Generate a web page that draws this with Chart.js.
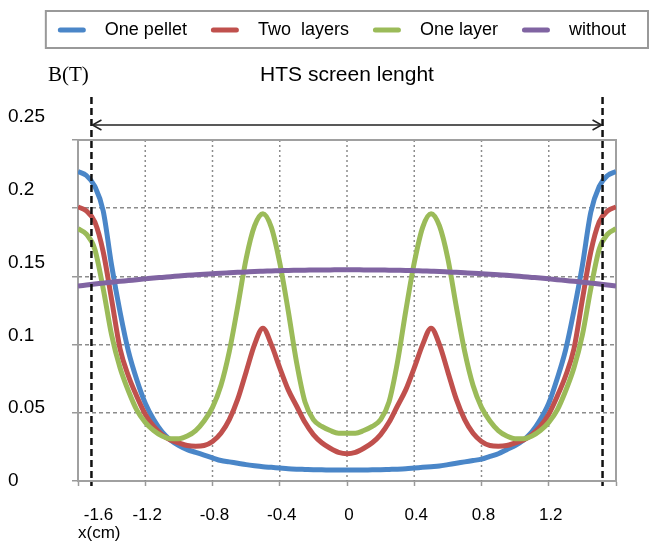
<!DOCTYPE html>
<html>
<head>
<meta charset="utf-8">
<script src="https://cdn.jsdelivr.net/npm/chart.js@4"></script>
<style>
  html, body { margin: 0; padding: 0; background: #fff; }
</style>
</head>
<body>
<canvas id="mycanvas" width="650" height="544"></canvas>
<script>
// positions along the screen, cm
var xPos = [-1.6, -1.55, -1.5, -1.45, -1.4, -1.35, -1.3, -1.25, -1.2, -1.15, -1.1, -1.05, -1.0, -0.95, -0.9, -0.85,
	-0.8, -0.75, -0.7, -0.65, -0.6, -0.55, -0.5, -0.45, -0.4, -0.35, -0.3, -0.25, -0.2, -0.15, -0.1, -0.05,
	0, 0.05, 0.1, 0.15, 0.2, 0.25, 0.3, 0.35, 0.4, 0.45, 0.5, 0.55, 0.6, 0.65, 0.7, 0.75,
	0.8, 0.85, 0.9, 0.95, 1.0, 1.05, 1.1, 1.15, 1.2, 1.25, 1.3, 1.35, 1.4, 1.45, 1.5, 1.55, 1.6];

// B (T)
var onePellet = [0.227, 0.224, 0.216, 0.198, 0.158, 0.124, 0.095, 0.074, 0.057, 0.045, 0.036, 0.030, 0.026, 0.023, 0.021, 0.019,
	0.017, 0.015, 0.014, 0.013, 0.012, 0.0112, 0.0105, 0.010, 0.0095, 0.009, 0.0087, 0.0085, 0.0083, 0.0082, 0.0081, 0.008,
	0.008, 0.008, 0.0081, 0.0082, 0.0083, 0.0085, 0.0087, 0.009, 0.0095, 0.010, 0.0105, 0.011, 0.012, 0.013, 0.014, 0.015,
	0.016, 0.018, 0.020, 0.023, 0.026, 0.030, 0.036, 0.045, 0.057, 0.075, 0.096, 0.125, 0.158, 0.197, 0.216, 0.224, 0.227];

var twoLayers = [0.201, 0.198, 0.190, 0.168, 0.133, 0.097, 0.077, 0.062, 0.049, 0.040, 0.034, 0.030, 0.028, 0.026, 0.0255, 0.026,
	0.029, 0.035, 0.045, 0.060, 0.080, 0.100, 0.112, 0.100, 0.083, 0.067, 0.055, 0.043, 0.034, 0.028, 0.024, 0.021,
	0.020, 0.021, 0.024, 0.028, 0.034, 0.043, 0.055, 0.067, 0.083, 0.100, 0.112, 0.100, 0.080, 0.060, 0.045, 0.035,
	0.029, 0.026, 0.0255, 0.026, 0.028, 0.030, 0.034, 0.040, 0.049, 0.062, 0.077, 0.097, 0.133, 0.168, 0.190, 0.198, 0.201];

var oneLayer = [0.185, 0.181, 0.170, 0.141, 0.107, 0.083, 0.066, 0.052, 0.043, 0.037, 0.033, 0.031, 0.031, 0.033, 0.037, 0.044,
	0.054, 0.070, 0.095, 0.128, 0.163, 0.187, 0.196, 0.186, 0.160, 0.125, 0.087, 0.058, 0.045, 0.040, 0.037, 0.035,
	0.035, 0.035, 0.037, 0.040, 0.045, 0.058, 0.087, 0.125, 0.160, 0.186, 0.196, 0.187, 0.163, 0.128, 0.095, 0.070,
	0.054, 0.044, 0.037, 0.033, 0.031, 0.031, 0.033, 0.037, 0.043, 0.052, 0.066, 0.083, 0.107, 0.141, 0.170, 0.181, 0.185];

var without = [0.1430, 0.1437, 0.1444, 0.1451, 0.1458, 0.1464, 0.1470, 0.1476, 0.1482, 0.1488, 0.1493, 0.1498, 0.1503, 0.1508, 0.1512, 0.1516,
	0.1520, 0.1524, 0.1527, 0.1530, 0.1533, 0.1536, 0.1538, 0.1540, 0.1542, 0.1544, 0.1545, 0.1546, 0.1547, 0.1548, 0.1548, 0.1549,
	0.1549, 0.1549, 0.1548, 0.1548, 0.1547, 0.1546, 0.1545, 0.1544, 0.1542, 0.1540, 0.1538, 0.1536, 0.1533, 0.1530, 0.1527, 0.1524,
	0.1520, 0.1516, 0.1512, 0.1508, 0.1503, 0.1498, 0.1493, 0.1488, 0.1482, 0.1476, 0.1470, 0.1464, 0.1458, 0.1451, 0.1444, 0.1437, 0.1430];

var seriesNames = ['One pellet', 'Two  layers', 'One layer', 'without'];
var yTickLabels = ['0', '0.05', '0.1', '0.15', '0.2', '0.25'];
var xTickLabels = ['-1.6', '-1.2', '-0.8', '-0.4', '0', '0.4', '0.8', '1.2'];

var SCREEN_EDGE = 1.52;   // dashed marker lines (ends of the HTS screen)
var Y_TOP = 0.2669;       // plot box ends at 0.25, labels sit slightly higher

Chart.defaults.font.family = '"Liberation Sans", Arial, sans-serif';
Chart.defaults.color = '#000';

function pts(vals) {
	return vals.map(function(v, i) { return {x: xPos[i], y: v}; });
}

function line(ctx, x1, y1, x2, y2) {
	ctx.beginPath();
	ctx.moveTo(x1, y1);
	ctx.lineTo(x2, y2);
	ctx.stroke();
}

var decor = {
	id: 'decor',
	beforeDatasetsDraw: function(chart) {
		var ctx = chart.ctx, ca = chart.chartArea, x = chart.scales.x, y = chart.scales.y;
		var top = y.getPixelForValue(0.25), bottom = y.getPixelForValue(0);
		ctx.save();
		// vertical dotted grid, only inside the box
		ctx.strokeStyle = '#8c8c8c';
		ctx.lineWidth = 1.5;
		ctx.setLineDash([2, 3]);
		x.ticks.forEach(function(t) {
			if (t.value <= x.min + 1e-6 || t.value >= x.max - 1e-6) return;
			var px = x.getPixelForValue(t.value);
			line(ctx, px, top, px, bottom);
		});
		// plot box
		ctx.setLineDash([]);
		ctx.strokeStyle = '#a0a0a0';
		ctx.lineWidth = 2;
		ctx.beginPath();
		ctx.moveTo(ca.left, bottom);
		ctx.lineTo(ca.left, top);
		ctx.lineTo(ca.right, top);
		ctx.lineTo(ca.right, bottom);
		ctx.stroke();
		ctx.restore();
	},
	afterDatasetsDraw: function(chart) {
		var ctx = chart.ctx, ca = chart.chartArea, x = chart.scales.x, y = chart.scales.y;
		var bottom = y.getPixelForValue(0);
		var xl = x.getPixelForValue(-SCREEN_EDGE), xr = x.getPixelForValue(SCREEN_EDGE);
		ctx.save();
		// screen edges
		ctx.strokeStyle = '#111';
		ctx.lineWidth = 2.5;
		ctx.setLineDash([7, 4]);
		line(ctx, xl, ca.top - 20, xl, bottom + 5);
		line(ctx, xr, ca.top - 20, xr, bottom + 5);
		// double arrow
		ctx.setLineDash([]);
		ctx.lineWidth = 1.5;
		ctx.strokeStyle = '#222';
		var ay = ca.top + 8;
		line(ctx, xl + 1, ay, xr - 1, ay);
		ctx.beginPath();
		ctx.moveTo(xl + 10, ay - 5); ctx.lineTo(xl + 1, ay); ctx.lineTo(xl + 10, ay + 5);
		ctx.moveTo(xr - 10, ay - 5); ctx.lineTo(xr - 1, ay); ctx.lineTo(xr - 10, ay + 5);
		ctx.stroke();
		// axis unit
		ctx.fillStyle = '#000';
		ctx.textBaseline = 'middle';
		ctx.textAlign = 'left';
		ctx.font = '21px "Liberation Serif", "Times New Roman", serif';
		ctx.fillText('B(T)', ca.left - 30, ca.top - 42);
		ctx.restore();
	},
	afterDraw: function(chart) {
		var hb = chart.legend && chart.legend.legendHitBoxes;
		if (!hb || !hb.length) return;
		var ctx = chart.ctx;
		ctx.save();
		ctx.strokeStyle = '#999';
		ctx.lineWidth = 2;
		var left = hb[0].left - 12, top = hb[0].top - 10;
		ctx.strokeRect(left, top, chart.width - 2 - left, hb[0].height + 19);
		ctx.restore();
	}
};

var chardata = {
	datasets: [
		{ label: seriesNames[0], data: pts(onePellet), borderColor: '#4a86c8', order: 3 },
		{ label: seriesNames[1], data: pts(twoLayers), borderColor: '#c0504d', order: 2 },
		{ label: seriesNames[2], data: pts(oneLayer), borderColor: '#9bbb59', order: 1 },
		{ label: seriesNames[3], data: pts(without), borderColor: '#8064a2', order: 0 }
	]
};

var ctx = document.getElementById('mycanvas');

var LineGraph = new Chart(ctx, {
	type: 'line',
	data: chardata,
	options: {
		responsive: false,
		animation: false,
		events: [],
		layout: { padding: { top: -3, left: 8, right: 0, bottom: 0 } },
		elements: {
			line: { borderWidth: 5, cubicInterpolationMode: 'monotone', fill: false },
			point: { radius: 0 }
		},
		scales: {
			x: {
				type: 'linear', position: 'bottom', weight: 0, min: -1.6, max: 1.6,
				ticks: { display: false, stepSize: 0.4 },
				grid: { drawOnChartArea: false, drawTicks: true, tickLength: 5, tickColor: '#999', tickWidth: 1.5 },
				border: { display: true, color: '#a0a0a0', width: 2 }
			},
			xl: {
				type: 'linear', position: 'bottom', weight: 1, min: -1.6, max: 1.6,
				grid: { display: false, drawTicks: false },
				border: { display: false },
				afterBuildTicks: function(s) {
					// first label sits beside the screen edge marker, as in the original
					s.ticks = xTickLabels.map(function(t) { return { value: Math.max(parseFloat(t), -1.49) }; });
				},
				ticks: {
					autoSkip: false, maxRotation: 0, padding: 19, labelOffset: 2,
					font: { size: 17 },
					callback: function(v, i) { return xTickLabels[i]; }
				},
				title: { display: true, text: 'x(cm)', align: 'start', font: { size: 17 }, padding: 0 },
				afterFit: function(s) { s.height = 58; }
			},
			y: {
				type: 'linear', position: 'left', weight: 0, min: 0, max: Y_TOP,
				ticks: { display: false, stepSize: 0.05, includeBounds: false },
				grid: {
					color: function(c) {
						return (c.tick && c.tick.value > 0.001 && c.tick.value < 0.249) ? '#8c8c8c' : 'rgba(0,0,0,0)';
					},
					lineWidth: 1.5, tickColor: '#999', tickLength: 6
				},
				border: { display: false, dash: [4, 3] }
			},
			yl: {
				type: 'linear', position: 'left', weight: 1, min: 0, max: 0.25,
				grid: { display: false, drawTicks: false },
				border: { display: false },
				ticks: {
					stepSize: 0.05, crossAlign: 'far', padding: 0,
					font: { size: 19 },
					callback: function(v, i) { return yTickLabels[i]; }
				},
				afterFit: function(s) { s.width = 64; }
			},
			yr: {
				type: 'linear', position: 'right', display: true,
				grid: { display: false, drawTicks: false },
				border: { display: false },
				ticks: { display: false },
				afterFit: function(s) { s.width = 34; }
			}
		},
		plugins: {
			tooltip: { enabled: false },
			title: {
				display: true, text: 'HTS screen lenght', fullSize: false, weight: 2000,
				font: { size: 21, weight: 'normal' }, color: '#000',
				padding: { top: 13.4, bottom: 29.4 }
			},
			legend: {
				position: 'top', align: 'end', weight: 3000,
				labels: {
					boxWidth: 28, boxHeight: 5, padding: 24,
					font: { size: 18 },
					useBorderRadius: true, borderRadius: 2.5,
					generateLabels: function(chart) {
						return chart.data.datasets.map(function(ds, i) {
							return { text: '  ' + ds.label, fillStyle: ds.borderColor, strokeStyle: ds.borderColor,
								lineWidth: 0, hidden: false, datasetIndex: i, borderRadius: 2.5, fontColor: '#000' };
						});
					}
				}
			}
		}
	},
	plugins: [decor]
});
</script>
</body>
</html>
